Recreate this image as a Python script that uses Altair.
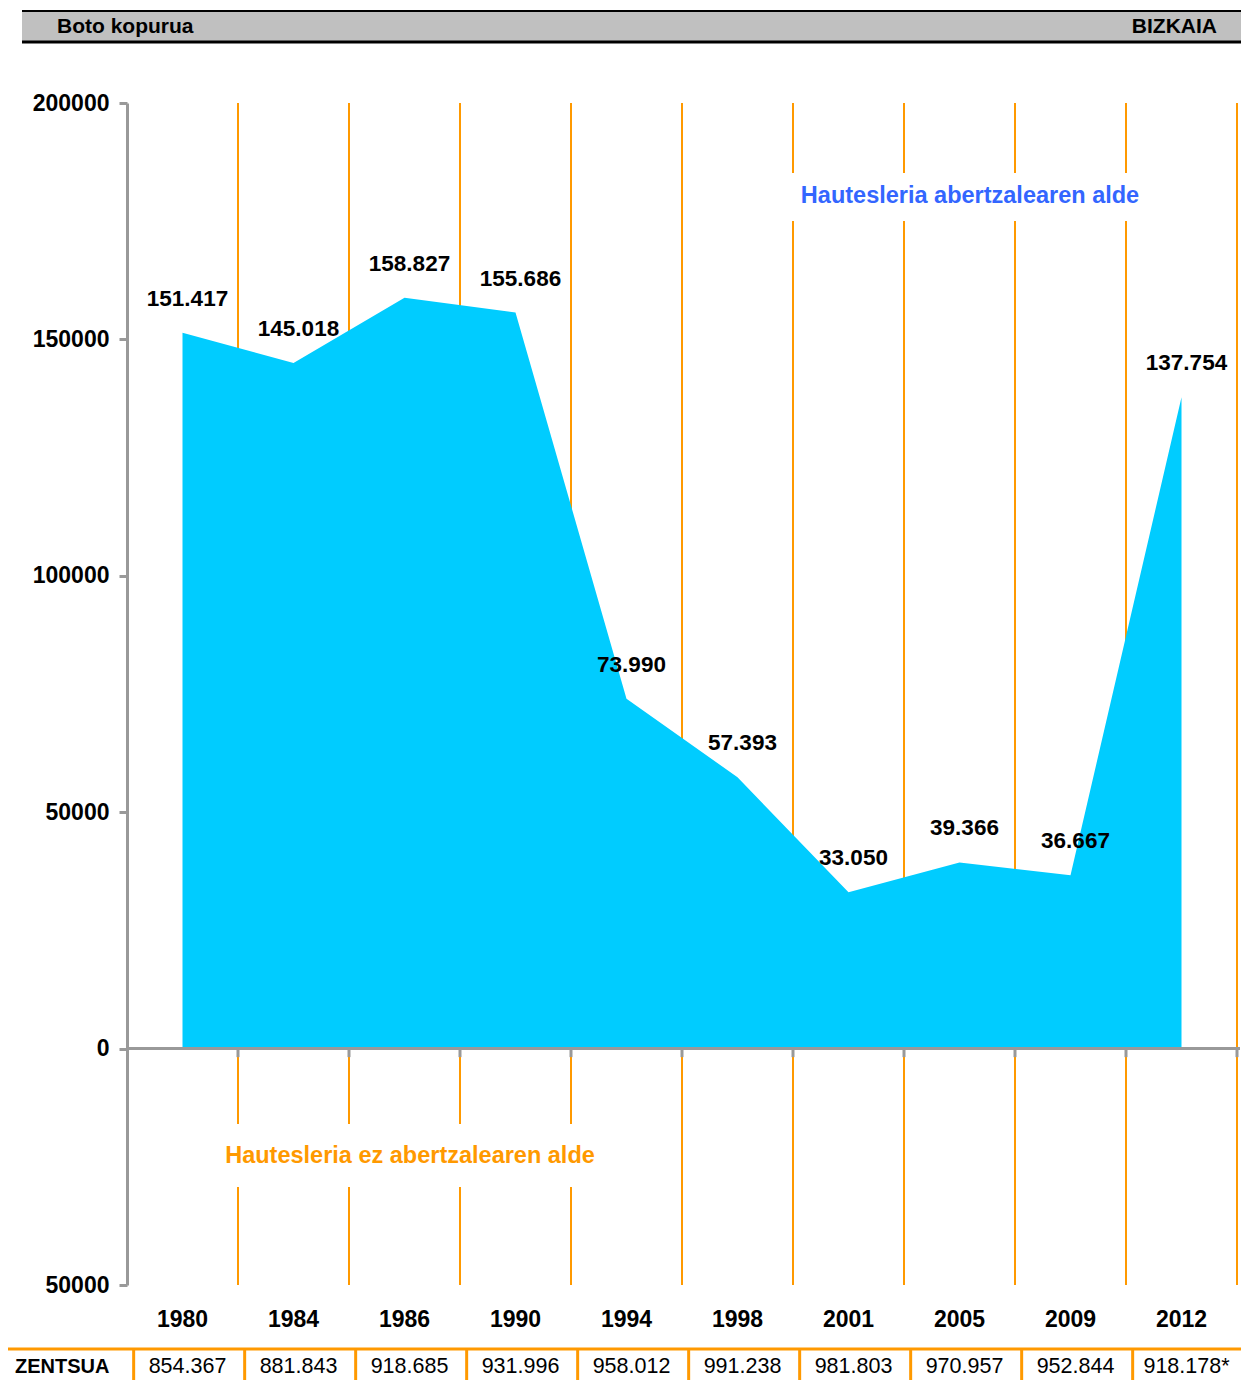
import altair as alt
import pandas as pd

# ---- data ----
years = ["1980", "1984", "1986", "1990", "1994", "1998", "2001", "2005", "2009", "2012"]
votes = [151417, 145018, 158827, 155686, 73990, 57393, 33050, 39366, 36667, 137754]
census = [854367, 881843, 918685, 931996, 958012, 991238, 981803, 970957, 952844, 918178]
census_note = ["", "", "", "", "", "", "", "", "", "*"]
y_ticks = [-50000, 0, 50000, 100000, 150000, 200000]

title_left = "Boto kopurua"
title_right = "BIZKAIA"
note_pro = "Hautesleria abertzalearen alde"
note_contra = "Hautesleria ez abertzalearen alde"
table_head = "ZENTSUA"


def dots(v):
    return f"{v:,}".replace(",", ".")


df = pd.DataFrame({
    "year": years,
    "votes": votes,
    "label": [dots(v) for v in votes],
    "census": [dots(c) + n for c, n in zip(census, census_note)],
})
one = pd.DataFrame({"k": [0]})

FONT = "Liberation Sans"
W, H = 1110, 1182
ORANGE = "#FF9900"
GRAY = "#999999"
CYAN = "#00CCFF"
BLUE = "#3366FF"

xscale = alt.Scale(type="band", domain=years, paddingInner=0, paddingOuter=0)
yscale = alt.Scale(domain=[-50000, 200000], nice=False, zero=False)

x_axis = alt.Axis(title=None, domain=False, ticks=False, grid=False,
                  labelFont=FONT, labelFontSize=23, labelFontWeight="bold",
                  labelColor="black", labelPadding=23, labelAngle=0)
y_axis = alt.Axis(title=None, values=y_ticks, grid=False,
                  labelExpr="format(abs(datum.value), 'd')",
                  domainColor=GRAY, domainWidth=3, tickColor=GRAY, tickWidth=3,
                  tickSize=8, labelPadding=10, labelFont=FONT, labelFontSize=23,
                  labelFontWeight="bold", labelColor="black")


def X(band):
    return alt.X("year:O", scale=xscale, axis=x_axis, sort=years, bandPosition=band)


def Y():
    return alt.Y("votes:Q", scale=yscale, axis=y_axis)


base = alt.Chart(df)

grid_lines = base.mark_rule(color=ORANGE, strokeWidth=2).encode(
    x=X(1), y=alt.datum(200000), y2=alt.datum(-50000))

gap_pro = alt.Chart(one).mark_rect(color="white").encode(
    x=alt.value(658), x2=alt.value(1013), y=alt.value(70), y2=alt.value(118))
gap_contra = alt.Chart(one).mark_rect(color="white").encode(
    x=alt.value(98), x2=alt.value(473), y=alt.value(1021), y2=alt.value(1084))

area = base.mark_area(color=CYAN, opacity=1).encode(x=X(0.5), y=Y())

zero_line = alt.Chart(one).mark_rule(color=GRAY, strokeWidth=3).encode(
    x=alt.value(0), x2=alt.value(W + 3), y=alt.datum(0))

ticks = base.mark_rule(color=GRAY, strokeWidth=3).encode(
    x=X(1), y=alt.datum(0), y2=alt.datum(-1800))

labels = base.mark_text(font=FONT, fontSize=22.5, fontWeight="bold", color="black",
                        dx=5, dy=-34).encode(x=X(0.5), y=Y(), text="label:N")

txt_pro = alt.Chart(one).mark_text(text=note_pro, font=FONT, fontSize=23.5,
                                   fontWeight="bold", color=BLUE).encode(
    x=alt.value(843), y=alt.value(93))
txt_contra = alt.Chart(one).mark_text(text=note_contra, font=FONT, fontSize=23.5,
                                      fontWeight="bold", color=ORANGE).encode(
    x=alt.value(283), y=alt.value(1053))

# header band
hdr_rect = alt.Chart(one).mark_rect(color="#C0C0C0").encode(
    x=alt.value(-105), x2=alt.value(W + 4), y=alt.value(-91), y2=alt.value(-62))
hdr_top = alt.Chart(one).mark_rule(color="black", strokeWidth=2).encode(
    x=alt.value(-105), x2=alt.value(W + 4), y=alt.value(-92))
hdr_bot = alt.Chart(one).mark_rule(color="black", strokeWidth=3).encode(
    x=alt.value(-105), x2=alt.value(W + 4), y=alt.value(-61))
hdr_left = alt.Chart(one).mark_text(text=title_left, font=FONT, fontSize=21,
                                    fontWeight="bold", color="black", align="left").encode(
    x=alt.value(-70), y=alt.value(-76))
hdr_right = alt.Chart(one).mark_text(text=title_right, font=FONT, fontSize=21,
                                     fontWeight="bold", color="black", align="right").encode(
    x=alt.value(1090), y=alt.value(-76))

# census table
tbl_line = alt.Chart(one).mark_rule(color=ORANGE, strokeWidth=3).encode(
    x=alt.value(-120), x2=alt.value(W + 4), y=alt.value(1246))
tbl_cols = base.mark_rule(color=ORANGE, strokeWidth=3).encode(
    x=X(0.06), y=alt.value(1246), y2=alt.value(1280))
tbl_head = alt.Chart(one).mark_text(text=table_head, font=FONT, fontSize=20,
                                    fontWeight="bold", color="black", align="left").encode(
    x=alt.value(-112), y=alt.value(1264))
tbl_vals = base.mark_text(font=FONT, fontSize=21.5, color="black", dx=5).encode(
    x=X(0.5), y=alt.value(1264), text="census:N")

chart = alt.layer(
    grid_lines, gap_pro, gap_contra, area, zero_line, ticks, labels,
    txt_pro, txt_contra, hdr_rect, hdr_top, hdr_bot, hdr_left, hdr_right,
    tbl_line, tbl_cols, tbl_head, tbl_vals,
).properties(
    width=W, height=H,
    autosize=alt.AutoSizeParams(type="none"),
    padding={"left": 119, "top": 95, "right": 4, "bottom": 95},
).configure_view(stroke=None)

chart.save("out.html", embed_options={"renderer": "svg", "actions": False})
